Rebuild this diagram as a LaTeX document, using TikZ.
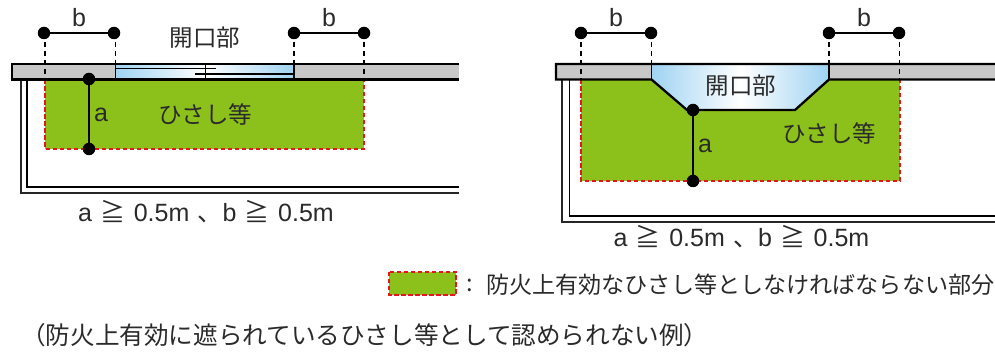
\documentclass[tikz,border=0pt]{standalone}
\usepackage{fontspec}
\setmainfont{Liberation Sans}
\newfontfamily\cjkf{Noto Sans CJK JP}
\definecolor{hgreen}{HTML}{8CC11B}
\definecolor{hgray}{HTML}{C8C8C8}
\definecolor{hblue}{HTML}{9FD3F2}
\definecolor{htext}{HTML}{2A2A2A}
\definecolor{hred}{HTML}{E8141C}
\newcommand{\formula}{a\,\,{\cjkf ≧}\,\,0.5m\,\,{\cjkf 、}b\,\,{\cjkf ≧}\,\,0.5m}
\tikzset{
  dimdot/.style={circle,fill=black,draw=none,inner sep=0pt,minimum size=12.5pt},
  dimline/.style={line width=2pt,black},
  guide/.style={line width=1.2pt,dash pattern=on 5pt off 4pt,black},
  zone/.style={fill=hgreen,draw=hred,line width=1.5pt,dash pattern=on 4.5pt off 2.5pt},
  wallband/.style={fill=hgray,draw=none},
  wallline/.style={line width=2.3pt,black},
  glass/.style={left color=hblue,right color=hblue,middle color=white,draw=none},
  lbl/.style={inner sep=0pt,text=htext,font=\fontsize{23.5}{24}\selectfont\cjkf},
  latin/.style={inner sep=0pt,text=htext,font=\fontsize{25}{25}\selectfont},
  thinwall/.style={line width=1.3pt,black!85}
}
\begin{document}
\begin{tikzpicture}[x=1pt,y=-1pt]
\useasboundingbox (0,0) rectangle (995,352);
% ---------- left diagram
\draw[thinwall] (21,79) -- (21,193) -- (459,193);
\draw[wallline,line width=1.8pt] (27,79) -- (27,186.7) -- (459,186.7);
\fill[wallband] (12,64) rectangle (459,79);
\fill[glass] (115.5,65) rectangle (294,79);
\draw[zone] (45,79.5) rectangle (364,149);
\draw[wallline] (459,64) -- (12,64) -- (12,79.5) -- (459,79.5);
\draw[line width=1.4pt] (115.5,64) -- (115.5,79);
\draw[line width=1.4pt] (294,64) -- (294,79);
\draw[line width=1pt] (115.5,69) -- (216,69);
\draw[line width=1.8pt] (195,74) -- (294,74);
\draw[line width=1pt] (205,64) -- (205,79);
\node[dimdot] (l1) at (44,33) {};
\node[dimdot] (l2) at (114,33) {};
\node[dimdot] (l3) at (294,33) {};
\node[dimdot] (l4) at (364,33) {};
\coordinate (l1g) at (45,79);
\coordinate (l2g) at (115.5,64);
\coordinate (l3g) at (294,64);
\coordinate (l4g) at (364,79);
\draw[dimline] (l1) -- (l2);
\draw[dimline] (l3) -- (l4);
\draw[guide,line width=1.7pt] (45,33) -- (l1g);
\draw[guide] (115.5,33) -- (l2g);
\draw[guide] (294,33) -- (l3g);
\draw[guide] (364,33) -- (l4g);
\node[dimdot] (la1) at (89,79) {};
\node[dimdot] (la2) at (89,149) {};
\draw[dimline,line width=2.3pt] (la1) -- (la2);
\node[latin] (lb1) at (79,18) {b};
\node[latin] (lb2) at (329,18) {b};
\node[lbl] (lopen) at (205,38) {開口部};
\node[latin] (la) at (101,115) {a};
\node[lbl] (leave) at (205,115) {ひさし等};
\node[latin] (lform) at (206,212) {\formula};
% ---------- right diagram
\draw[thinwall,line width=1.8pt] (562,79) -- (562,222) -- (995,222);
\draw[wallline,line width=1.8pt] (569.5,79) -- (569.5,215.7) -- (995,215.7);
\fill[wallband] (556,64) rectangle (995,79);
\draw[zone,line width=1.1pt] (581,79.5) rectangle (900,181);
\fill[glass] (651.5,65) -- (829,65) -- (829,79) -- (795,110) -- (687,110) -- (651.5,79) -- cycle;
\draw[wallline] (995,64) -- (556,64) -- (556,79.5) -- (651.5,79.5) -- (687,110) -- (795,110) -- (829,79.5) -- (995,79.5);
\draw[line width=1.7pt] (651.5,64) -- (651.5,79.5);
\draw[line width=1.7pt] (829,64) -- (829,79.5);
\node[dimdot] (r1) at (581,33) {};
\node[dimdot] (r2) at (651,33) {};
\node[dimdot] (r3) at (829,33) {};
\node[dimdot] (r4) at (899,33) {};
\coordinate (r1g) at (581,79);
\coordinate (r2g) at (651.5,64);
\coordinate (r3g) at (829,64);
\coordinate (r4g) at (899.5,79);
\draw[dimline] (r1) -- (r2);
\draw[dimline] (r3) -- (r4);
\draw[guide] (581,33) -- (r1g);
\draw[guide,line width=1.7pt] (651.5,33) -- (r2g);
\draw[guide] (829,33) -- (r3g);
\draw[guide,line width=1.7pt] (899.5,33) -- (r4g);
\node[dimdot] (ra1) at (693,110) {};
\node[dimdot] (ra2) at (693,181) {};
\draw[dimline,line width=2.3pt] (ra1) -- (ra2);
\node[latin] (rb1) at (616,18) {b};
\node[latin] (rb2) at (864,18) {b};
\node[lbl] (ropen) at (741,86) {開口部};
\node[latin] (ra) at (705,146) {a};
\node[lbl] (reave) at (829,134) {ひさし等};
\node[latin] (rform) at (741.5,237) {\formula};
% ---------- legend
\draw[zone] (389,272) rectangle (456,295);
\node[lbl] (colon) at (470,285) {:};
\node[lbl,anchor=west,font=\fontsize{23.1}{24}\selectfont\cjkf] (legend) at (486,285) {防火上有効なひさし等としなければならない部分};
\node[lbl,anchor=west,font=\fontsize{24.6}{25}\selectfont\cjkf] (cap) at (21,335) {（防火上有効に遮られているひさし等として認められない例）};
\end{tikzpicture}
\end{document}
